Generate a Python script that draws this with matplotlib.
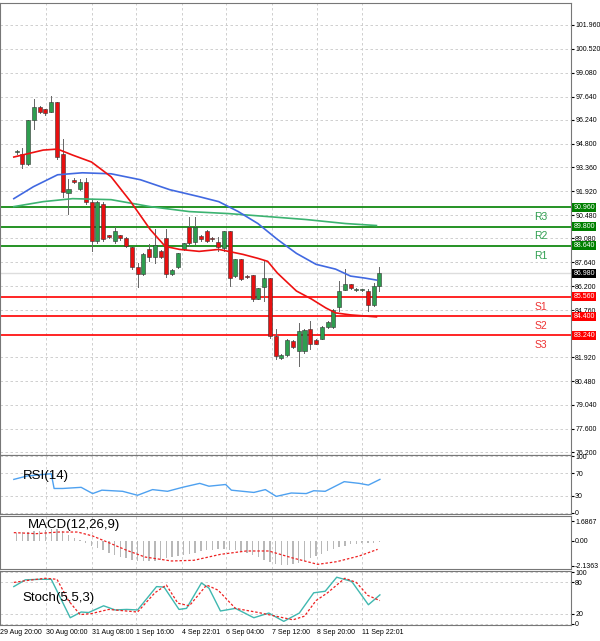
import numpy as np
import matplotlib.pyplot as plt
from matplotlib.patches import Rectangle

plt.rcParams['font.family'] = 'Liberation Sans'

# candles (open, high, low, close)
opens  = [94.29,94.17,93.57,96.21,96.99,96.87,96.69,97.29,94.17,91.84,92.62,92.08,92.50,91.30,88.90,91.18,
          89.26,88.90,89.26,89.08,88.54,87.34,86.93,88.42,87.94,88.30,89.08,86.93,87.34,88.42,89.80,88.84,
          89.20,89.50,89.08,88.84,88.48,89.50,86.81,87.82,86.81,86.87,85.43,86.15,86.69,83.21,81.89,82.07,
          82.91,82.31,82.31,83.63,82.97,83.03,83.75,83.75,84.95,85.97,86.33,85.97,85.97,85.91,85.07,86.21]
highs  = [94.41,94.53,96.21,97.47,97.05,96.90,97.65,97.29,95.07,92.68,92.70,92.68,92.74,91.48,91.35,91.25,
          89.30,89.80,89.30,89.14,88.54,87.58,88.20,88.72,89.62,88.40,89.62,87.23,88.20,88.80,90.40,90.40,
          89.30,89.60,89.14,89.14,89.50,89.50,87.82,87.82,86.90,86.87,86.09,87.70,86.69,83.63,82.10,83.00,
          82.95,83.99,83.60,84.11,83.00,83.80,84.10,84.80,86.51,87.23,86.35,86.10,86.05,86.03,86.40,87.35]
lows   = [94.17,93.33,93.51,95.67,96.63,96.55,96.69,93.87,91.60,90.58,92.45,92.02,91.18,88.30,88.80,88.95,
          89.10,88.80,89.00,88.54,87.23,86.15,86.90,87.70,87.58,87.90,86.75,86.90,87.30,88.40,88.60,88.72,
          88.95,88.85,88.95,88.30,88.30,86.21,86.75,86.55,86.70,85.31,85.40,85.31,83.10,81.83,81.80,82.00,
          82.50,81.41,82.20,82.43,82.70,83.00,83.70,83.70,84.71,85.95,86.05,85.90,85.90,84.71,85.00,85.90]
closes = [94.30,93.57,96.21,96.99,96.69,96.63,97.29,93.99,91.90,92.08,92.50,92.50,91.30,88.90,91.30,89.02,
          89.14,89.50,89.08,88.60,87.34,86.93,88.12,87.94,88.66,87.94,86.93,87.17,88.18,88.78,88.78,89.80,
          89.02,88.90,89.02,88.54,89.50,86.69,87.82,86.63,86.75,85.43,86.09,86.69,83.21,82.01,82.07,82.97,
          82.55,83.51,83.57,82.73,82.73,83.75,84.05,84.77,85.91,86.33,86.09,85.97,85.97,85.07,86.21,86.98]

# moving averages (candle index, price)
ma_red_x = [-0.5,4.6,7.1,9.7,13,16.4,19.8,23.2,25.8,28.3,31.7,35.1,36.8,39.3,41.9,43.6,45.3,48.6,51.2,53.7,55.4,58,62.5]
ma_red_y = [93.99,94.41,94.47,94.11,93.69,92.80,91.30,89.62,88.60,88.42,88.30,88.42,88.30,88.12,87.88,87.70,86.99,
            85.91,85.43,84.89,84.59,84.47,84.35]
ma_blue_x = [-0.5,2.9,7.1,11.4,16.4,21.5,26.6,31.7,35.1,38.5,41.9,45.3,48.6,52,55.4,58,60.5,62.5]
ma_blue_y = [91.48,92.20,92.92,93.04,92.98,92.62,92.02,91.60,91.30,90.70,89.98,89.02,88.18,87.52,87.23,86.81,86.69,86.57]
ma_green_x = [-0.5,4.6,9.7,16.4,23.2,30,36.8,43.6,50.3,57.1,62.5]
ma_green_y = [91.00,91.30,91.48,91.42,91.00,90.70,90.58,90.40,90.22,89.98,89.86]

resist = [90.96, 89.80, 88.64]
support = [85.56, 84.40, 83.24]
last_price = 86.98
price_ticks = [101.96,100.52,99.08,97.64,96.24,94.80,93.36,91.92,90.48,89.08,87.64,86.20,84.76,81.92,80.48,79.04,77.60,76.20]

date_pos = [-2.9,5.1,13.0,20.8,28.7,36.4,44.4,52.2,60.0]
date_labels = ['29 Aug 20:00','30 Aug 00:00','31 Aug 08:00','1 Sep 16:00','4 Sep 22:01',
               '6 Sep 04:00','7 Sep 12:00','8 Sep 20:00','11 Sep 22:01']

rsi_x = [-0.5,1.8,6,6.5,8,11.2,13.2,14.8,18.4,21,23.6,26.2,28.8,31.8,33.4,36.3,37.3,41.2,43.2,45.1,47.7,50.3,51.6,53.6,56.9,59.5,61.1,63.1]
rsi_y = [59,65,69,43,43,45,34,40,38,31,41,38,45,52,47,50,40,36,41,29,35,34,39,38,55,52,49,59]

macd_hist = [0.7,0.75,0.8,0.85,0.9,0.95,1.0,1.0,0.9,0.5,0.3,0.1,
             -0.2,-0.4,-0.6,-0.8,-1.0,-1.2,-1.4,-1.5,-1.6,-1.7,-1.75,-1.75,-1.7,-1.6,-1.5,
             -1.4,-1.3,-1.2,-1.1,-1.0,-0.9,-0.8,-0.75,-0.7,-0.7,-0.75,-0.8,-0.9,-1.0,-1.2,
             -1.4,-1.6,-1.8,-2.0,-2.1,-2.1,-2.0,-1.9,-1.7,-1.5,-1.3,-1.1,-0.9,-0.7,-0.5,
             -0.4,-0.3,-0.25,-0.2,-0.2,-0.15,-0.1]
macd_sig_x = [-0.5,3.4,7.3,10.6,13.2,16.4,19.1,22.3,26.9,30.8,35.4,39.9,43.8,47.7,52.3,55.6,59.5,62.7]
macd_sig_y = [0.72,0.63,0.77,0.77,0.43,-0.23,-0.80,-1.38,-1.72,-1.66,-1.15,-0.86,-0.86,-1.43,-2.01,-1.78,-1.29,-0.72]

stk_x = [-0.5,1.5,4.1,6,9.3,11.2,12.5,15.1,17.1,19.1,21,24.3,25.6,28.2,29.5,32.1,33.4,35.4,38,41.2,43.8,46.4,49.1,51.6,53.6,55.6,58.2,61.1,63.1]
stk_y = [72,85,86,86,12,23,22,35,27,28,27,72,71,28,30,79,69,25,30,12,21,5,21,60,63,90,82,37,56]
std_x = [-0.5,2,5,7,9,11,13,16,19,21,24,26,28,30,33,35,38,42,45,48,50,52,54,57,59,61,63.1]
std_y = [80,84,88,86,45,18,20,28,25,23,60,75,40,35,75,65,30,22,15,8,15,45,60,88,80,55,45]

W, H = 600, 641
fig = plt.figure(figsize=(6, 6.41), dpi=100)
XL = (-0.5, 96.3)
AXR = 571
TS = 5


def panel(top, bottom):
    ax = fig.add_axes([0, 1 - bottom / H, AXR / W, (bottom - top) / H])
    ax.set_xlim(*XL)
    ax.set_xticks(date_pos)
    ax.xaxis.grid(True, color='#c8c8c8', ls=(0, (3, 3)), lw=0.6)
    ax.tick_params(axis='x', length=0, labelbottom=False)
    ax.yaxis.tick_right()
    ax.tick_params(axis='y', labelsize=TS, length=2, pad=1)
    for s in ax.spines.values():
        s.set_color('#777777')
    return ax


# main price panel
ax = panel(3, 455)
ax.set_ylim(76.02, 103.28)
ax.set_yticks(price_ticks)
ax.set_yticklabels(['%.3f' % v for v in price_ticks])
ax.yaxis.grid(True, color='#c8c8c8', ls=(0, (3, 3)), lw=0.6)
ax.axhline(last_price, color='#dddddd', lw=1)
for i in range(len(opens)):
    o, h, l, c = opens[i], highs[i], lows[i], closes[i]
    ax.plot([i, i], [l, h], color='#666666', lw=0.7, zorder=3)
    col = '#2e9e4f' if c >= o else '#e81010'
    hgt = max(abs(c - o), 0.05)
    ax.add_patch(Rectangle((i - 0.35, min(o, c)), 0.7, hgt, facecolor=col,
                           edgecolor='#333333', lw=0.4, zorder=4))
ax.plot(ma_green_x, ma_green_y, color='#3cb371', lw=1.2, zorder=5)
ax.plot(ma_blue_x, ma_blue_y, color='#4169e1', lw=1.2, zorder=5)
ax.plot(ma_red_x, ma_red_y, color='#ee1111', lw=1.2, zorder=5)
for k, v in enumerate(resist):
    ax.axhline(v, color='#008000', lw=1.2, zorder=2)
    ax.text(91, v - 0.3, 'R%d' % (3 - k), color='#2e9e4f', fontsize=7.5, ha='center', va='top')
    ax.text(96.7, v, '%.3f' % v, color='white', fontsize=TS, va='center', ha='left',
            bbox=dict(boxstyle='square,pad=0.15', fc='#008000', ec='none'), clip_on=False, zorder=10)
for k, v in enumerate(support):
    ax.axhline(v, color='#ff0000', lw=1.2, zorder=2)
    ax.text(91, v - 0.3, 'S%d' % (k + 1), color='#ee3333', fontsize=7.5, ha='center', va='top')
    ax.text(96.7, v, '%.3f' % v, color='white', fontsize=TS, va='center', ha='left',
            bbox=dict(boxstyle='square,pad=0.15', fc='#ff0000', ec='none'), clip_on=False, zorder=10)
ax.text(96.7, last_price, '%.3f' % last_price, color='white', fontsize=TS, va='center', ha='left',
        bbox=dict(boxstyle='square,pad=0.15', fc='black', ec='none'), clip_on=False, zorder=10)

# RSI
ar = panel(455, 514)
ar.set_ylim(-2, 102)
ar.set_yticks([0, 30, 70, 100])
ar.yaxis.grid(True, color='#c8c8c8', ls=(0, (3, 3)), lw=0.6)
ar.plot(rsi_x, rsi_y, color='#4ea1f0', lw=1)
ar.text(1, 76, 'RSI(14)', fontsize=9.5, va='top')

# MACD
am = panel(516, 569)
am.set_ylim(-2.41, 2.15)
am.set_yticks([1.6867, 0, -2.1363])
am.set_yticklabels(['1.6867', '0.00', '-2.1363'])
am.bar(range(len(macd_hist)), macd_hist, width=0.25, color='#b8b8b8')
am.plot(macd_sig_x, macd_sig_y, color='#ee2222', lw=0.9, ls=(0, (2, 1.5)))
am.text(2, 1.9, 'MACD(12,26,9)', fontsize=9.5, va='top')

# Stochastic
ast = panel(571, 625)
ast.set_ylim(-2, 102)
ast.set_yticks([0, 20, 80, 100])
ast.yaxis.grid(True, color='#c8c8c8', ls=(0, (3, 3)), lw=0.6)
ast.plot(stk_x, stk_y, color='#40b8b0', lw=1)
ast.plot(std_x, std_y, color='#ee2222', lw=0.9, ls=(0, (2, 1.5)))
ast.text(1, 62, 'Stoch(5,5,3)', fontsize=9.5, va='top')
ast.tick_params(axis='x', labelbottom=True, labelsize=5, pad=3)
ast.set_xticklabels(date_labels, ha='left')

fig.savefig('out.png', dpi=100)
